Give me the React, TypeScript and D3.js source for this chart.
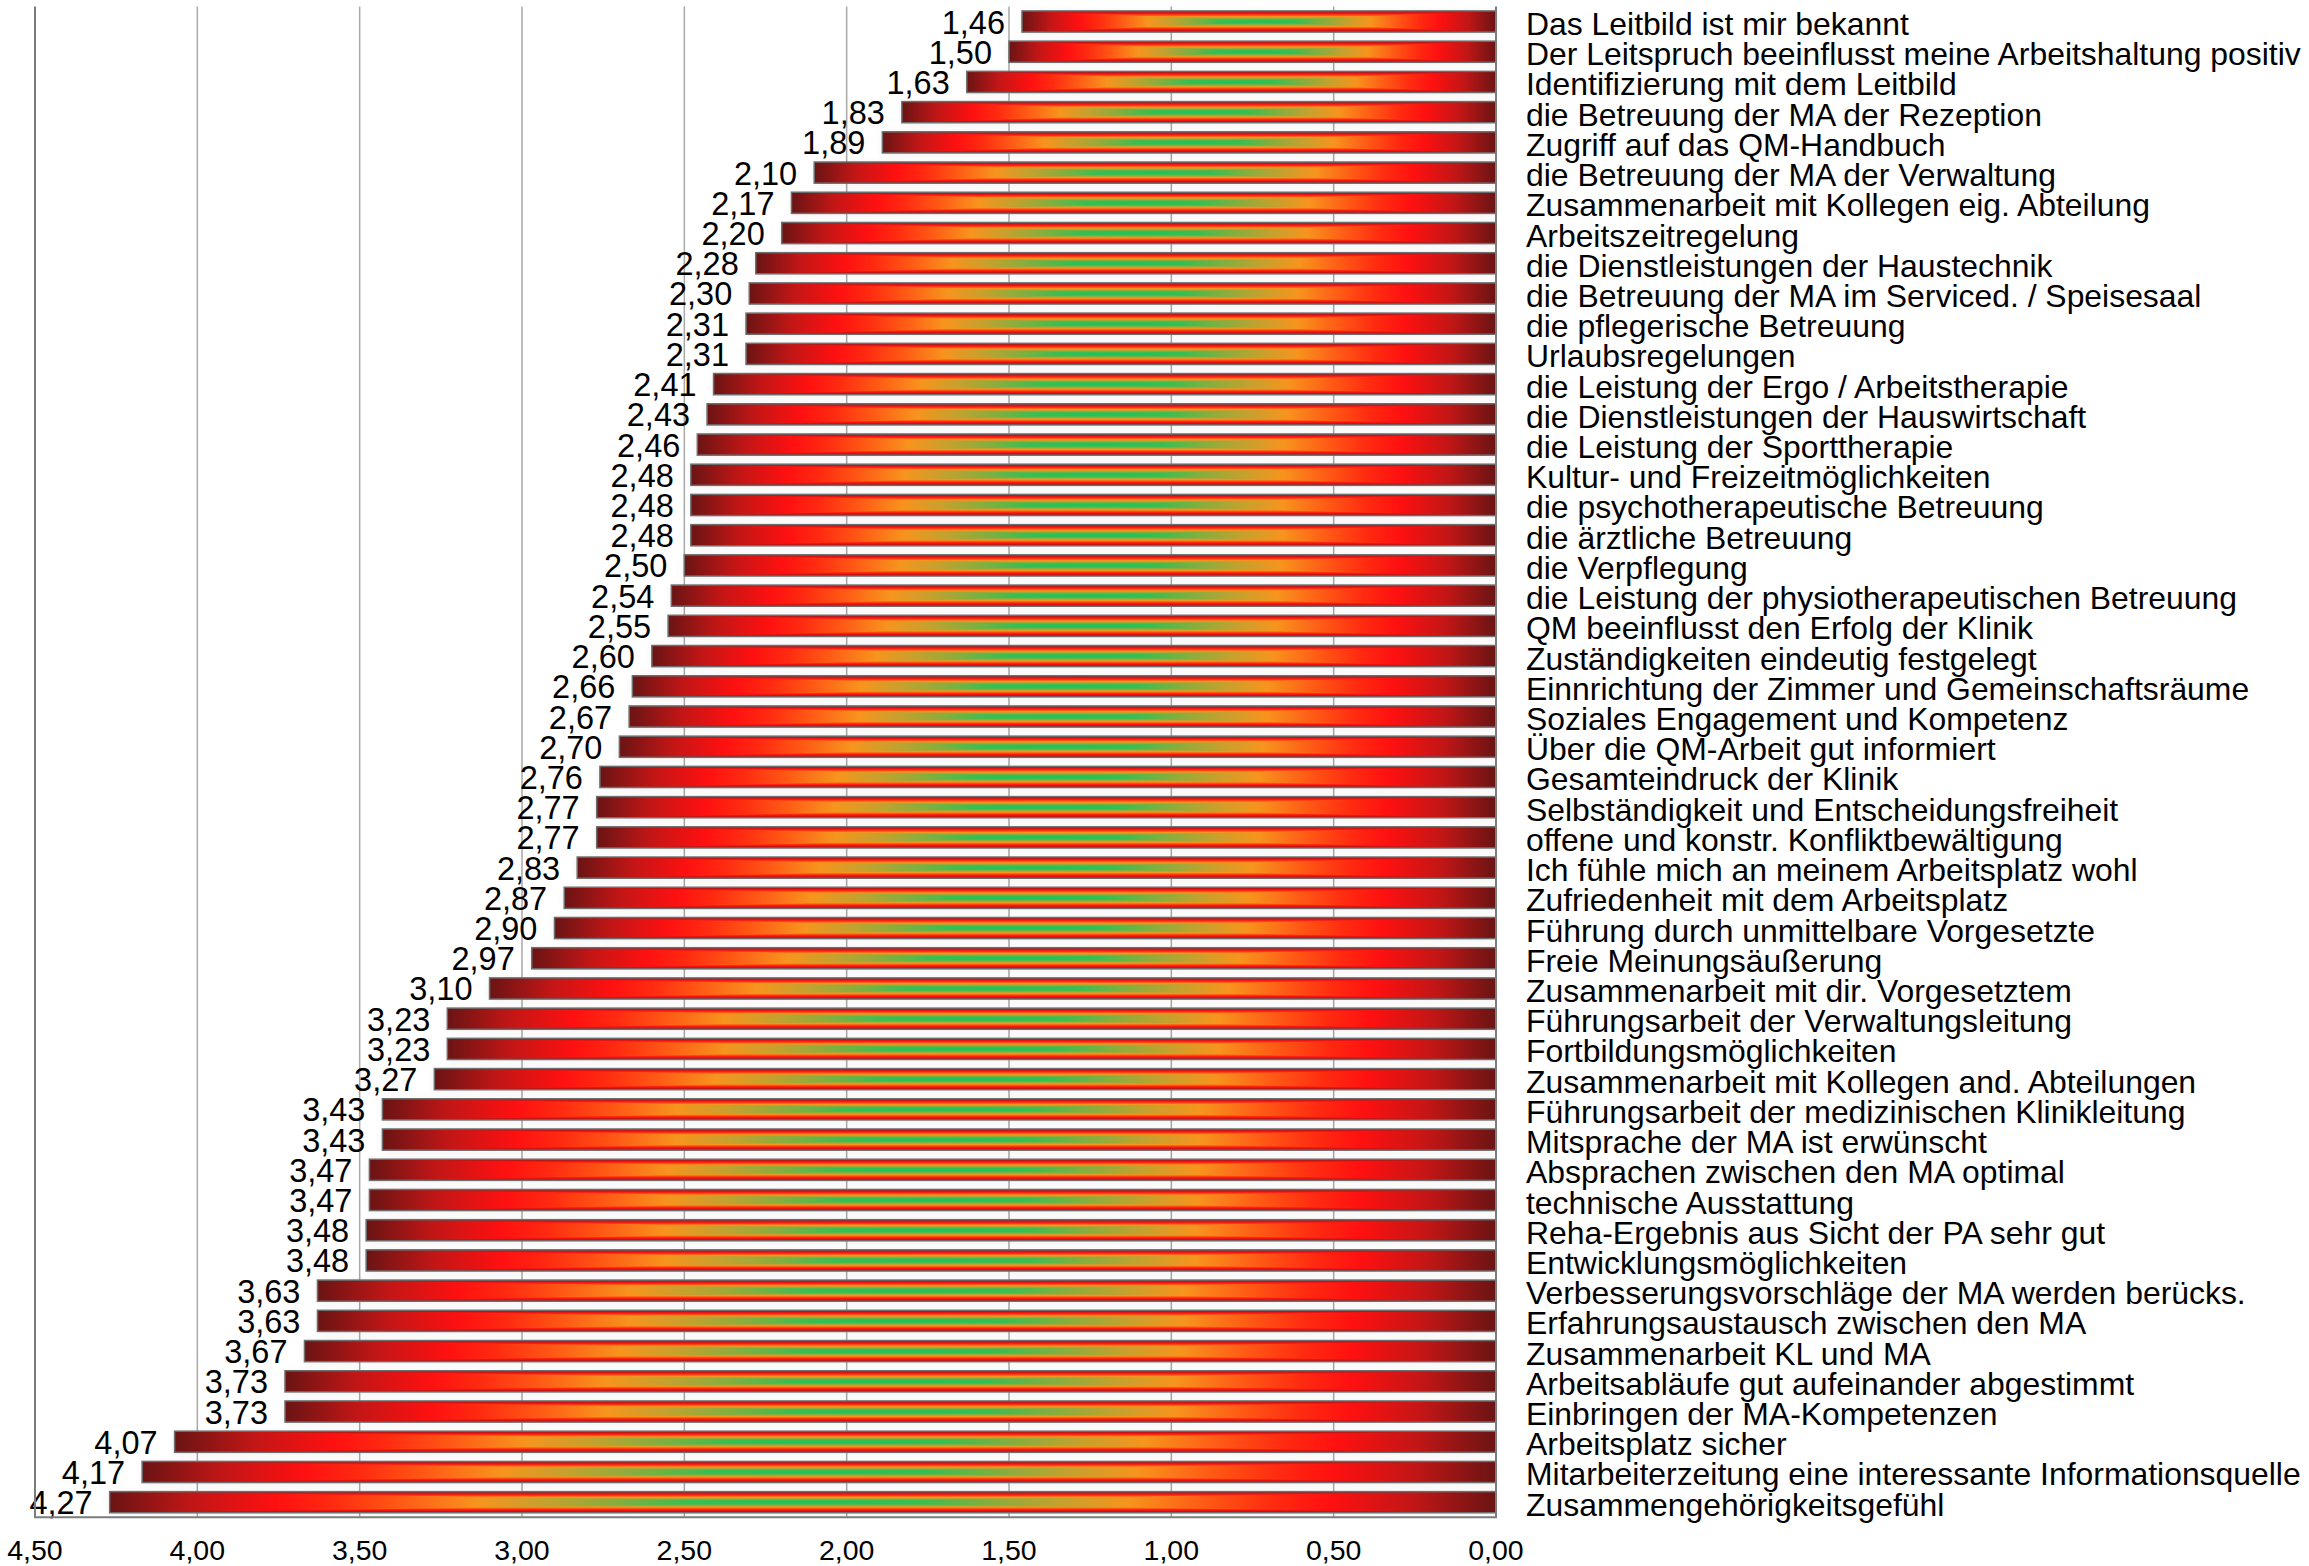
import * as d3 from 'd3';
import { useEffect, useRef } from 'react';

// Survey items, top to bottom
const categories = [
  'Das Leitbild ist mir bekannt',
  'Der Leitspruch beeinflusst meine Arbeitshaltung positiv',
  'Identifizierung mit dem Leitbild',
  'die Betreuung der MA der Rezeption',
  'Zugriff auf das QM-Handbuch',
  'die Betreuung der MA der Verwaltung',
  'Zusammenarbeit mit Kollegen eig. Abteilung',
  'Arbeitszeitregelung',
  'die Dienstleistungen der Haustechnik',
  'die Betreuung der MA im Serviced. / Speisesaal',
  'die pflegerische Betreuung',
  'Urlaubsregelungen',
  'die Leistung der Ergo / Arbeitstherapie',
  'die Dienstleistungen der Hauswirtschaft',
  'die Leistung der Sporttherapie',
  'Kultur- und Freizeitmöglichkeiten',
  'die psychotherapeutische Betreuung',
  'die ärztliche Betreuung',
  'die Verpflegung',
  'die Leistung der physiotherapeutischen Betreuung',
  'QM beeinflusst den Erfolg der Klinik',
  'Zuständigkeiten eindeutig festgelegt',
  'Einnrichtung der Zimmer und Gemeinschaftsräume',
  'Soziales Engagement und Kompetenz',
  'Über die QM-Arbeit gut informiert',
  'Gesamteindruck der Klinik',
  'Selbständigkeit und Entscheidungsfreiheit',
  'offene und konstr. Konfliktbewältigung',
  'Ich fühle mich an meinem Arbeitsplatz wohl',
  'Zufriedenheit mit dem Arbeitsplatz',
  'Führung durch unmittelbare Vorgesetzte',
  'Freie Meinungsäußerung',
  'Zusammenarbeit mit dir. Vorgesetztem',
  'Führungsarbeit der Verwaltungsleitung',
  'Fortbildungsmöglichkeiten',
  'Zusammenarbeit mit Kollegen and. Abteilungen',
  'Führungsarbeit der medizinischen Klinikleitung',
  'Mitsprache der MA ist erwünscht',
  'Absprachen zwischen den MA optimal',
  'technische Ausstattung',
  'Reha-Ergebnis aus Sicht der PA sehr gut',
  'Entwicklungsmöglichkeiten',
  'Verbesserungsvorschläge der MA werden berücks.',
  'Erfahrungsaustausch zwischen den MA',
  'Zusammenarbeit KL und MA',
  'Arbeitsabläufe gut aufeinander abgestimmt',
  'Einbringen der MA-Kompetenzen',
  'Arbeitsplatz sicher',
  'Mitarbeiterzeitung eine interessante Informationsquelle',
  'Zusammengehörigkeitsgefühl'
];

const values = [
  1.46, 1.5, 1.63, 1.83, 1.89, 2.1, 2.17, 2.2, 2.28, 2.3,
  2.31, 2.31, 2.41, 2.43, 2.46, 2.48, 2.48, 2.48, 2.5, 2.54,
  2.55, 2.6, 2.66, 2.67, 2.7, 2.76, 2.77, 2.77, 2.83, 2.87,
  2.9, 2.97, 3.1, 3.23, 3.23, 3.27, 3.43, 3.43, 3.47, 3.47,
  3.48, 3.48, 3.63, 3.63, 3.67, 3.73, 3.73, 4.07, 4.17, 4.27
];

const xTicks = [0, 0.5, 1, 1.5, 2, 2.5, 3, 3.5, 4, 4.5];

// bar fill ramp: distance from bar centre (0) to bar edge (1)
const ramp: [number, string][] = [
  [0, '#1dc35c'],
  [0.16, '#35bf52'],
  [0.27, '#85ae3f'],
  [0.37, '#c4a12e'],
  [0.47, '#f7941d'],
  [0.58, '#ff5a15'],
  [0.68, '#ff2a10'],
  [0.76, '#ff1010'],
  [0.88, '#c21616'],
  [1, '#6a1414']
];

const WIDTH = 2309;
const HEIGHT = 1566;
const FONT = '"Liberation Sans", Arial, Helvetica, sans-serif';

const de = d3.formatLocale({ decimal: ',', thousands: '.', grouping: [3], currency: ['', ' €'] });
const fmt = de.format('.2f');

export default function App() {
  const svgRef = useRef<SVGSVGElement>(null);

  useEffect(() => {
    if (!svgRef.current) return;
    const svg = d3.select(svgRef.current);
    svg.selectAll('*').remove();

    const [yTop, yBottom] = [6.4, 1517.3];
    const x = d3.scaleLinear().domain([4.5, 0]).range([35, 1496]);
    const y = d3.scaleBand<string>()
      .domain(categories)
      .range([yTop, yBottom])
      .paddingInner(0.3)
      .paddingOuter(0.15);

    const defs = svg.append('defs');

    // horizontal part of the rectangular gradient
    const gh = defs.append('linearGradient')
      .attr('id', 'bar-h')
      .attr('x1', 0).attr('x2', 1).attr('y1', 0).attr('y2', 0);
    const hStops = ramp
      .flatMap(([d, c]) => [{ o: (1 - d) / 2, c }, { o: (1 + d) / 2, c }])
      .sort((a, b) => a.o - b.o);
    gh.selectAll('stop').data(hStops).enter().append('stop')
      .attr('offset', d => d.o)
      .attr('stop-color', d => d.c);

    // vertical parts (top and bottom triangles)
    const gt = defs.append('linearGradient')
      .attr('id', 'bar-top')
      .attr('x1', 0).attr('x2', 0).attr('y1', 0).attr('y2', 1);
    gt.selectAll('stop').data([...ramp].reverse()).enter().append('stop')
      .attr('offset', d => 1 - d[0])
      .attr('stop-color', d => d[1]);

    const gb = defs.append('linearGradient')
      .attr('id', 'bar-bottom')
      .attr('x1', 0).attr('x2', 0).attr('y1', 0).attr('y2', 1);
    gb.selectAll('stop').data(ramp).enter().append('stop')
      .attr('offset', d => d[0])
      .attr('stop-color', d => d[1]);

    const shadow = defs.append('filter')
      .attr('id', 'bar-shadow')
      .attr('x', '-5%').attr('y', '-60%')
      .attr('width', '110%').attr('height', '220%');
    shadow.append('feGaussianBlur').attr('stdDeviation', 4);

    // gridlines
    svg.append('g')
      .selectAll('line')
      .data(xTicks.filter(t => t > 0 && t < 4.5))
      .enter().append('line')
      .attr('x1', d => x(d)).attr('x2', d => x(d))
      .attr('y1', yTop).attr('y2', yBottom)
      .attr('stroke', '#a9a9a9')
      .attr('stroke-width', 1.5);

    const bars = svg.append('g')
      .selectAll('g')
      .data(categories.map((c, i) => ({ c, v: values[i] })))
      .enter().append('g');

    const geo = (d: { c: string; v: number }) => {
      const x0 = x(d.v), x1 = x(0);
      const y0 = y(d.c) || 0, y1 = y0 + y.bandwidth();
      return { x0, x1, y0, y1, xc: (x0 + x1) / 2, yc: (y0 + y1) / 2 };
    };

    // soft shadow around each bar
    bars.append('rect')
      .attr('x', d => geo(d).x0)
      .attr('y', d => geo(d).y0 + 1)
      .attr('width', d => geo(d).x1 - geo(d).x0)
      .attr('height', y.bandwidth())
      .attr('fill', '#000')
      .attr('opacity', 0.07)
      .attr('filter', 'url(#bar-shadow)');

    bars.append('rect')
      .attr('x', d => geo(d).x0)
      .attr('y', d => geo(d).y0)
      .attr('width', d => geo(d).x1 - geo(d).x0)
      .attr('height', y.bandwidth())
      .attr('fill', 'url(#bar-h)');

    bars.append('path')
      .attr('d', d => {
        const g = geo(d);
        return `M${g.x0},${g.y0}L${g.x1},${g.y0}L${g.xc},${g.yc}Z`;
      })
      .attr('fill', 'url(#bar-top)');

    bars.append('path')
      .attr('d', d => {
        const g = geo(d);
        return `M${g.x0},${g.y1}L${g.x1},${g.y1}L${g.xc},${g.yc}Z`;
      })
      .attr('fill', 'url(#bar-bottom)');

    bars.append('rect')
      .attr('x', d => geo(d).x0)
      .attr('y', d => geo(d).y0)
      .attr('width', d => geo(d).x1 - geo(d).x0)
      .attr('height', y.bandwidth())
      .attr('fill', 'none')
      .attr('stroke', '#6e6e6e')
      .attr('stroke-width', 1.5);

    // frame: left, right, bottom
    svg.append('path')
      .attr('d', `M${x(4.5)},${yTop}V${yBottom}H${x(0)}V${yTop}`)
      .attr('fill', 'none')
      .attr('stroke', '#7c7c7c')
      .attr('stroke-width', 2);

    // value labels
    bars.append('text')
      .attr('x', d => geo(d).x0 - 17)
      .attr('y', d => geo(d).yc + 12)
      .attr('text-anchor', 'end')
      .style('font-size', '32.5px')
      .style('font-family', FONT)
      .attr('fill', '#000')
      .text(d => fmt(d.v));

    // category labels
    bars.append('text')
      .attr('x', x(0) + 30)
      .attr('y', d => geo(d).yc + 13.5)
      .style('font-size', '31.9px')
      .style('font-family', FONT)
      .attr('fill', '#000')
      .text(d => d.c);

    // x axis tick labels
    svg.append('g')
      .selectAll('text')
      .data(xTicks)
      .enter().append('text')
      .attr('x', d => x(d))
      .attr('y', 1560)
      .attr('text-anchor', 'middle')
      .style('font-size', '28.5px')
      .style('font-family', FONT)
      .attr('fill', '#000')
      .text(d => fmt(d));
  }, []);

  return (
    <svg
      ref={svgRef}
      width={WIDTH}
      height={HEIGHT}
      style={{ position: 'absolute', left: 0, top: 0, background: '#fff' }}
    ></svg>
  );
}
